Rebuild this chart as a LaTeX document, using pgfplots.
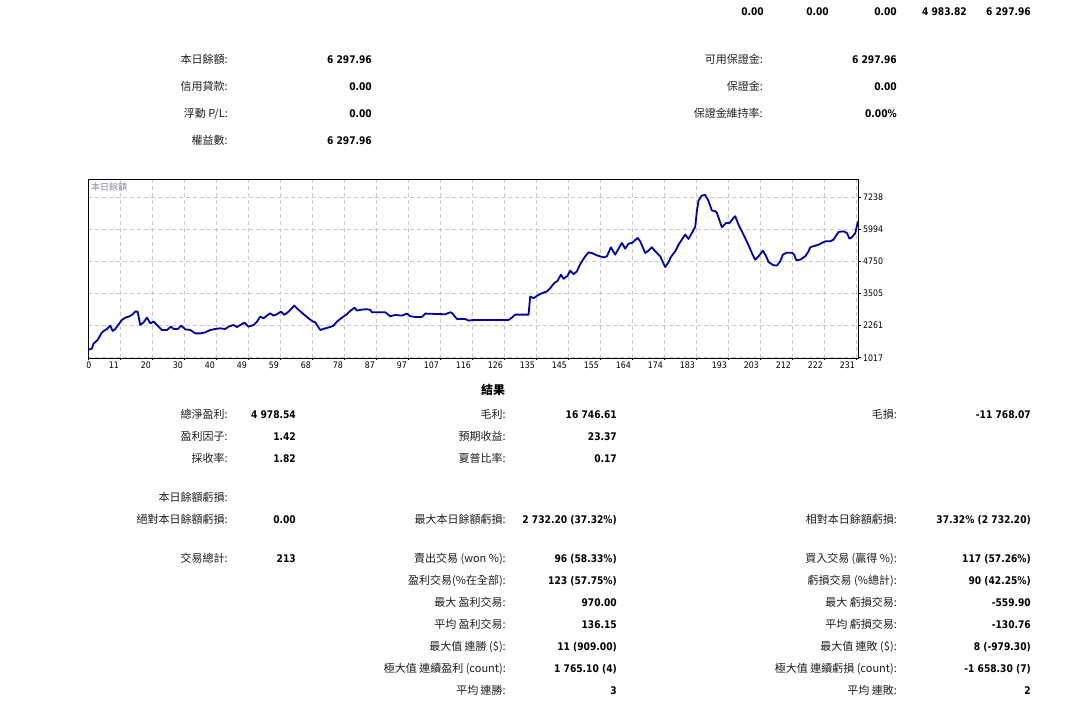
\documentclass[border=0pt]{standalone}
\usepackage{fontspec}
\usepackage{pgfplots}
\pgfplotsset{compat=1.18}
\setmainfont{DejaVu Sans}[FakeStretch=0.87]
\newfontfamily\cjk{Noto Sans CJK TC}
\definecolor{lineblue}{RGB}{0,0,170}
\definecolor{gridgray}{RGB}{200,200,200}
\definecolor{labgray}{RGB}{30,30,30}
\newcommand\lab[1]{{\cjk\fontsize{11}{13}\selectfont\color{labgray}#1}}
\newcommand\val[1]{{\fontsize{10.5}{12}\selectfont\bfseries #1}}
\newcommand\tf{\fontsize{9}{11}\selectfont}
\pgfplotstableread{
x y
0 1319
1.19 1381
1.70 1575
2.70 1679
3.20 1770
4.01 1964
4.71 2055
5.71 2133
6.72 2262
7.42 2055
8.22 2133
9.23 2314
10.23 2483
11.24 2573
12.24 2612
13.25 2677
14.25 2806
14.95 2806
15.76 2288
16.76 2392
17.76 2573
18.77 2353
19.77 2418
20.78 2288
22.28 2094
23.79 2094
24.99 2223
25.80 2133
27.10 2133
28.11 2262
29.31 2120
30.82 2094
32.32 1964
33.83 1964
35.34 2003
36.84 2094
38.35 2133
39.85 2159
41.36 2133
42.36 2223
43.87 2288
44.87 2210
45.88 2288
47.18 2379
48.39 2223
49.90 2288
50.90 2418
51.90 2612
52.91 2548
53.91 2651
54.92 2742
55.92 2651
56.93 2703
58.13 2806
59.14 2677
60.44 2806
62.15 3040
63.45 2871
65.46 2651
67.47 2444
68.47 2392
69.98 2094
71.49 2159
72.99 2210
73.99 2262
75.00 2418
76.51 2573
78.01 2703
79.02 2832
80.32 2962
81.03 2845
82.53 2884
84.04 2897
85.04 2871
85.54 2780
89.56 2780
91.07 2625
92.57 2677
94.58 2651
96.09 2729
97.09 2625
98.60 2599
100.61 2599
101.61 2729
107.64 2703
109.14 2780
109.64 2755
111.15 2521
113.66 2521
114.66 2457
116.17 2483
126.72 2483
127.72 2573
128.72 2690
132.74 2690
133.24 3390
134.25 3325
135.75 3455
137.26 3546
138.26 3585
139.27 3714
140.47 3909
141.48 3999
142.48 4232
143.28 4077
144.49 4193
145.29 4388
146.30 4258
147.30 4362
148.30 4646
149.81 4945
150.82 5100
151.82 5074
153.33 4983
155.33 4906
156.34 4945
157.54 5295
158.85 5010
159.85 5243
160.86 5463
161.86 5243
162.87 5437
163.87 5463
165.58 5657
166.38 5528
167.89 5074
168.89 5165
169.90 5295
171.40 5074
172.41 4945
173.91 4530
174.92 4724
175.62 4919
176.92 5139
177.93 5398
178.93 5593
179.94 5787
180.94 5618
181.95 5852
182.95 6085
183.45 6694
183.96 7108
184.96 7300
185.96 7321
186.97 7083
187.97 6720
188.97 6694
189.48 6629
190.98 6072
192.29 6240
193.29 6240
194.50 6434
195.00 6499
196.00 6175
197.51 5787
199.02 5372
200.02 5074
201.03 4815
202.03 4945
203.33 5165
204.34 4945
205.04 4724
206.55 4600
207.55 4589
208.56 4750
209.36 5010
210.56 5087
212.07 5087
212.77 5010
213.38 4802
214.58 4815
216.09 4945
217.09 5139
217.59 5295
219.10 5359
220.11 5398
221.11 5463
222.12 5528
223.62 5528
224.62 5593
226.13 5890
227.64 5916
228.64 5852
229.44 5631
230.14 5683
231.15 5839
232 6298
}\equity
\begin{document}
\begin{tikzpicture}[x=1pt,y=1pt]
\useasboundingbox[fill=white] (0,0) rectangle (1071,712);
\tikzset{L/.style={anchor=base east,inner sep=0pt},V/.style={anchor=base east,inner sep=0pt}}
% top row
\node[V] at (764,696) {\val{0.00}};
\node[V] at (829,696) {\val{0.00}};
\node[V] at (897,696) {\val{0.00}};
\node[V] at (967,696) {\val{4 983.82}};
\node[V] at (1031,696) {\val{6 297.96}};
% account block
\node[L] at (228,648) {\lab{本日餘額:}};
\node[V] at (372,648) {\val{6 297.96}};
\node[L] at (228,621) {\lab{信用貸款:}};
\node[V] at (372,621) {\val{0.00}};
\node[L] at (228,594) {\lab{浮動 P/L:}};
\node[V] at (372,594) {\val{0.00}};
\node[L] at (228,567) {\lab{權益數:}};
\node[V] at (372,567) {\val{6 297.96}};
\node[L] at (763,648) {\lab{可用保證金:}};
\node[V] at (897,648) {\val{6 297.96}};
\node[L] at (763,621) {\lab{保證金:}};
\node[V] at (897,621) {\val{0.00}};
\node[L] at (763,594) {\lab{保證金維持率:}};
\node[V] at (897,594) {\val{0.00\%}};
% chart
\begin{axis}[at={(88pt,354pt)},anchor=south west,scale only axis,
  width=770pt,height=179pt,
  xmin=0,xmax=232,ymin=1010,ymax=7940,
  axis line style={black,line width=0.9pt},
  grid=major,
  major grid style={gridgray,line width=0.9pt,dash pattern=on 4pt off 3pt},
  tick align=outside,major tick length=2.5pt,
  tick style={black,line width=0.8pt},
  xtick pos=lower, ytick pos=right, yticklabel pos=right,
  xtick={0,9.641,19.282,28.923,38.564,48.205,57.846,67.487,77.128,86.769,96.41,106.051,115.692,125.333,134.974,144.615,154.256,163.897,173.538,183.179,192.82,202.461,212.102,221.743,231.384},
  xticklabels={\makebox[0pt][l]{0},11,20,30,40,49,59,68,78,87,97,107,116,126,135,145,155,164,174,183,193,203,212,222,231},
  ytick={1017,2261,3505,4750,5994,7238},
  yticklabels={1017,2261,3505,4750,5994,7238},
  xticklabel style={font=\tf,anchor=north east,inner sep=0pt,xshift=-1pt,yshift=-1pt},
  yticklabel style={font=\tf,anchor=west,inner sep=0pt,xshift=2.5pt},
]
\addplot[lineblue,line width=1.8pt,line join=round] table[x=x,y=y] {\equity};
\end{axis}
\node[anchor=west,inner sep=0pt,text={rgb,255:red,135;green,135;blue,150}] at (91,524.5) {\cjk\fontsize{9}{10}\selectfont 本日餘額};
% results
\node[anchor=base,inner sep=0pt] at (493,317) {\cjk\fontsize{12}{14}\selectfont\bfseries 結果};
\node[L] at (228,293) {\lab{總淨盈利:}};
\node[V] at (296,293) {\val{4 978.54}};
\node[L] at (506,293) {\lab{毛利:}};
\node[V] at (617,293) {\val{16 746.61}};
\node[L] at (897,293) {\lab{毛損:}};
\node[V] at (1031,293) {\val{-11 768.07}};
\node[L] at (228,271) {\lab{盈利因子:}};
\node[V] at (296,271) {\val{1.42}};
\node[L] at (506,271) {\lab{預期收益:}};
\node[V] at (617,271) {\val{23.37}};
\node[L] at (228,249) {\lab{採收率:}};
\node[V] at (296,249) {\val{1.82}};
\node[L] at (506,249) {\lab{夏普比率:}};
\node[V] at (617,249) {\val{0.17}};
\node[L] at (228,210) {\lab{本日餘額虧損:}};
\node[L] at (228,188) {\lab{絕對本日餘額虧損:}};
\node[V] at (296,188) {\val{0.00}};
\node[L] at (506,188) {\lab{最大本日餘額虧損:}};
\node[V] at (617,188) {\val{2 732.20 (37.32\%)}};
\node[L] at (897,188) {\lab{相對本日餘額虧損:}};
\node[V] at (1031,188) {\val{37.32\% (2 732.20)}};
\node[L] at (228,149) {\lab{交易總計:}};
\node[V] at (296,149) {\val{213}};
\node[L] at (506,149) {\lab{賣出交易 (won \%):}};
\node[V] at (617,149) {\val{96 (58.33\%)}};
\node[L] at (897,149) {\lab{買入交易 (贏得 \%):}};
\node[V] at (1031,149) {\val{117 (57.26\%)}};
\node[L] at (506,127) {\lab{盈利交易(\%在全部):}};
\node[V] at (617,127) {\val{123 (57.75\%)}};
\node[L] at (897,127) {\lab{虧損交易 (\%總計):}};
\node[V] at (1031,127) {\val{90 (42.25\%)}};
\node[L] at (506,105) {\lab{最大 盈利交易:}};
\node[V] at (617,105) {\val{970.00}};
\node[L] at (897,105) {\lab{最大 虧損交易:}};
\node[V] at (1031,105) {\val{-559.90}};
\node[L] at (506,83) {\lab{平均 盈利交易:}};
\node[V] at (617,83) {\val{136.15}};
\node[L] at (897,83) {\lab{平均 虧損交易:}};
\node[V] at (1031,83) {\val{-130.76}};
\node[L] at (506,61) {\lab{最大值 連勝 (\$):}};
\node[V] at (617,61) {\val{11 (909.00)}};
\node[L] at (897,61) {\lab{最大值 連敗 (\$):}};
\node[V] at (1031,61) {\val{8 (-979.30)}};
\node[L] at (506,39) {\lab{極大值 連續盈利 (count):}};
\node[V] at (617,39) {\val{1 765.10 (4)}};
\node[L] at (897,39) {\lab{極大值 連續虧損 (count):}};
\node[V] at (1031,39) {\val{-1 658.30 (7)}};
\node[L] at (506,17) {\lab{平均 連勝:}};
\node[V] at (617,17) {\val{3}};
\node[L] at (897,17) {\lab{平均 連敗:}};
\node[V] at (1031,17) {\val{2}};
\end{tikzpicture}
\end{document}
